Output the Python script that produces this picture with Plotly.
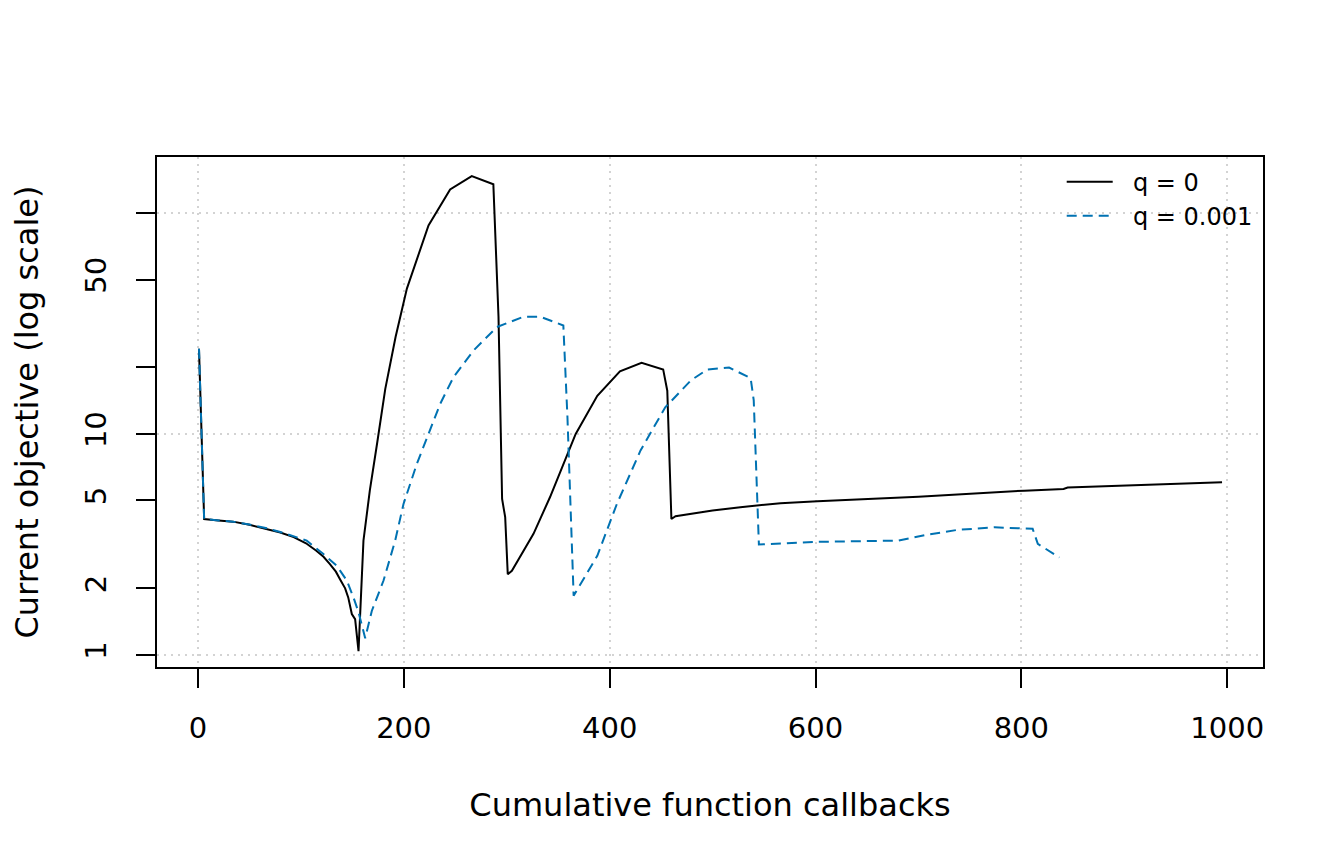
import plotly.graph_objects as go

# objective trace, two q settings
calls_q0 = [1, 6, 20, 34, 50, 67, 80, 93, 105, 115, 122, 128, 134, 138, 143, 146,
            149.5, 152.7, 156, 160.8, 167, 174, 182, 192, 203, 224, 245, 266, 287,
            292, 295.5, 298.5, 301, 305, 326, 342, 367, 388, 410, 431, 452, 456,
            460, 464, 480, 500, 527, 566, 602, 700, 803, 841, 845, 900, 995]
obj_q0 = [24.3, 4.12, 4.06, 4.01, 3.88, 3.72, 3.58, 3.41, 3.2, 2.96, 2.78, 2.58,
          2.38, 2.2, 2.0, 1.82, 1.53, 1.45, 1.04, 3.29, 5.55, 9.03, 16.0, 27.5,
          45.5, 88, 128, 147, 135, 34, 5.08, 4.2, 2.32, 2.4, 3.53, 5.17, 10.0,
          14.9, 19.2, 21.0, 19.6, 15.7, 4.12, 4.24, 4.35, 4.5, 4.66, 4.86, 4.96,
          5.2, 5.54, 5.64, 5.72, 5.84, 6.05]

calls_q001 = [1, 6, 20, 34, 50, 67, 80, 93, 105.7, 121.9, 134.9, 144.6, 151.1, 156,
              159.2, 162.5, 168.9, 180.3, 191.6, 199.7, 212.7, 224, 235.4, 248.3,
              267.8, 290.5, 316, 333, 355, 359, 362, 365, 369, 388, 407, 430, 454,
              479, 495, 516, 537, 540, 545, 602, 680, 709, 738, 774, 811, 816, 837]
obj_q001 = [24.3, 4.12, 4.06, 4.01, 3.89, 3.74, 3.6, 3.44, 3.29, 2.86, 2.53, 2.17,
            1.82, 1.56, 1.38, 1.19, 1.58, 2.17, 3.29, 4.82, 7.33, 10.0, 13.7, 18.1,
            23.9, 30.5, 33.9, 33.9, 31.0, 11.9, 4.2, 1.85, 1.99, 2.81, 4.82, 8.42,
            13.2, 17.5, 19.6, 20.0, 17.9, 14.2, 3.16, 3.25, 3.29, 3.5, 3.68, 3.78,
            3.72, 3.18, 2.76]

x_ticks = [0, 200, 400, 600, 800, 1000]
y_ticks = [1, 2, 5, 10, 20, 50, 100]
y_labels = ["1", "2", "5", "10", "", "50", ""]
y_grid = [1, 10, 100]

font = "DejaVu Sans"
pad = "\u00a0\u00a0"  # extra gap between legend key and label, like R's legend

fig = go.Figure()
fig.add_trace(go.Scatter(x=calls_q0, y=obj_q0, mode="lines", name=pad + "q = 0",
                         line=dict(color="black", width=2)))
fig.add_trace(go.Scatter(x=calls_q001, y=obj_q001, mode="lines", name=pad + "q = 0.001",
                         line=dict(color="#0072B2", width=2, dash="10px,6px")))

# page body adds an 8px offset, so the margins are shifted to compensate
fig.update_layout(
    width=1344, height=864,
    paper_bgcolor="white", plot_bgcolor="white",
    margin=dict(l=149, r=89, t=149, b=205),
    font=dict(family=font, size=27, color="black"),
    showlegend=True,
    legend=dict(x=0.818, y=0.995, xanchor="left", yanchor="top",
                bgcolor="rgba(0,0,0,0)", borderwidth=0, itemwidth=46,
                font=dict(size=24), tracegroupgap=0),
    xaxis=dict(
        range=[-39.8, 1034.8], tickmode="array", tickvals=x_ticks,
        ticks="outside", ticklen=19, tickwidth=1.5, tickcolor="black",
        ticklabelstandoff=15, tickfont=dict(size=29),
        showline=True, mirror=True, linecolor="black", linewidth=1.5,
        showgrid=True, gridcolor="#D3D3D3", gridwidth=1.5, griddash="2px,5px",
        zeroline=False,
        title=dict(text="Cumulative function callbacks", standoff=50),
    ),
    yaxis=dict(
        type="log", range=[-0.055, 2.254], tickmode="array",
        tickvals=y_ticks, ticktext=y_labels, tickangle=-90,
        ticks="outside", ticklen=19, tickwidth=1.5, tickcolor="black",
        ticklabelstandoff=19, tickfont=dict(size=29),
        showline=True, mirror=True, linecolor="black", linewidth=1.5,
        showgrid=False, zeroline=False,
        minor=dict(tickmode="array", tickvals=y_grid, ticks="", showgrid=True,
                   gridcolor="#D3D3D3", gridwidth=1.5, griddash="2px,5px"),
        title=dict(text="Current objective (log scale)", standoff=34),
    ),
)

fig.write_html("out.html")
